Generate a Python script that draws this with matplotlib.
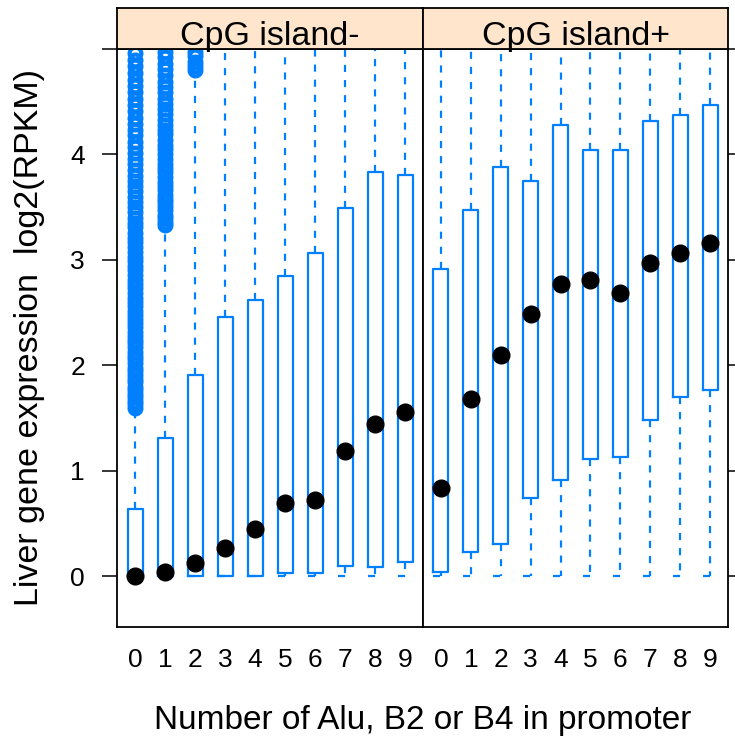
import matplotlib
matplotlib.use("Agg")
import matplotlib.pyplot as plt

plt.rcParams['font.family'] = ['Liberation Sans', 'DejaVu Sans']

cats = ["0", "1", "2", "3", "4", "5", "6", "7", "8", "9"]
panels = ["CpG island-", "CpG island+"]

# CpG island-
neg_q1 = [0.0, 0.0, 0.0, 0.0, 0.0, 0.03, 0.03, 0.10, 0.085, 0.14]
neg_med = [0.0, 0.04, 0.13, 0.27, 0.45, 0.70, 0.72, 1.19, 1.44, 1.56]
neg_q3 = [0.64, 1.31, 1.91, 2.46, 2.62, 2.85, 3.07, 3.49, 3.83, 3.81]
neg_lo = [0.0, 0.0, 0.0, 0.0, 0.0, 0.0, 0.0, 0.0, 0.0, 0.0]
neg_hi = [1.58, 3.30, 4.78, 5.3, 5.3, 5.3, 5.3, 5.3, 5.3, 5.3]
neg_out0 = [1.60, 1.63, 1.66, 1.70, 1.73, 1.77, 1.80, 1.84, 1.87, 1.91, 1.95, 1.98,
            2.02, 2.06, 2.09, 2.13, 2.17, 2.21, 2.24, 2.28, 2.32, 2.36, 2.40, 2.44,
            2.48, 2.52, 2.56, 2.60, 2.64, 2.69, 2.73, 2.77, 2.81, 2.86, 2.90, 2.94,
            2.99, 3.03, 3.08, 3.12, 3.17, 3.21, 3.26, 3.31, 3.35, 3.40, 3.45, 3.50,
            3.55, 3.60, 3.65, 3.70, 3.75, 3.80, 3.85, 3.91, 3.96, 4.01, 4.07, 4.12,
            4.18, 4.23, 4.29, 4.35, 4.41, 4.47, 4.53, 4.59, 4.65, 4.71, 4.77, 4.84,
            4.90, 4.96]
neg_out1 = [3.33, 3.36, 3.40, 3.43, 3.47, 3.51, 3.55, 3.58, 3.62, 3.66, 3.70, 3.74,
            3.79, 3.83, 3.87, 3.91, 3.96, 4.00, 4.05, 4.09, 4.14, 4.19, 4.23, 4.28,
            4.33, 4.38, 4.43, 4.48, 4.53, 4.59, 4.64, 4.69, 4.75, 4.81, 4.86, 4.92,
            4.97]
neg_out2 = [4.80, 4.84, 4.88, 4.93, 4.97]

# CpG island+
pos_q1 = [0.04, 0.23, 0.31, 0.74, 0.91, 1.11, 1.13, 1.48, 1.70, 1.77]
pos_med = [0.84, 1.68, 2.10, 2.49, 2.77, 2.81, 2.69, 2.97, 3.07, 3.16]
pos_q3 = [2.91, 3.47, 3.88, 3.75, 4.28, 4.04, 4.04, 4.32, 4.37, 4.47]
pos_lo = [0.0, 0.0, 0.0, 0.0, 0.0, 0.0, 0.0, 0.0, 0.0, 0.0]
pos_hi = [5.3, 5.3, 5.3, 5.3, 5.3, 5.3, 5.3, 5.3, 5.3, 5.3]

blue = "#0080ff"
dash = (0, (3.2, 3.6))

fig = plt.figure(figsize=(7.35, 7.44), dpi=100)
W, H = 735.0, 744.0
ax1 = fig.add_axes([117 / W, (H - 627) / H, 306 / W, 578 / H])
ax2 = fig.add_axes([423 / W, (H - 627) / H, 305 / W, 578 / H])
s1 = fig.add_axes([117 / W, (H - 49) / H, 306 / W, 41 / H])
s2 = fig.add_axes([423 / W, (H - 49) / H, 305 / W, 41 / H])

data = [
    (neg_q1, neg_med, neg_q3, neg_lo, neg_hi, [neg_out0, neg_out1, neg_out2]),
    (pos_q1, pos_med, pos_q3, pos_lo, pos_hi, []),
]

for ax, (q1, med, q3, lo, hi, outs) in zip([ax1, ax2], data):
    stats = []
    for i in range(len(cats)):
        fl = outs[i] if i < len(outs) else []
        stats.append(dict(med=med[i], q1=q1[i], q3=q3[i], whislo=lo[i],
                          whishi=hi[i], fliers=fl))
    pos = list(range(1, len(cats) + 1))
    ax.bxp(stats, positions=pos, widths=0.5, capwidths=0.5, showfliers=True,
           boxprops=dict(color=blue, lw=1.6),
           whiskerprops=dict(color=blue, lw=1.6, linestyle=dash),
           capprops=dict(color=blue, lw=1.6, linestyle=dash),
           medianprops=dict(lw=0),
           flierprops=dict(marker="o", markerfacecolor="none",
                           markeredgecolor=blue, markersize=8.5,
                           markeredgewidth=3.0))
    ax.plot(pos, med, "o", color="black", markersize=12, zorder=5)
    ax.set_xlim(0.4, 10.6)
    ax.set_ylim(-0.48, 5.0)
    ax.set_xticks(pos)
    ax.set_xticklabels(cats)
    ax.set_yticks([0, 1, 2, 3, 4, 5])
    ax.tick_params(axis="x", length=0, pad=15, labelsize=19)
    for sp in ax.spines.values():
        sp.set_linewidth(1.3)

ax1.set_yticklabels(["0", "1", "2", "3", "4", ""])
ax1.tick_params(axis="y", length=11, width=1.1, pad=12, labelsize=19)
ax1.set_ylabel("Liver gene expression  log2(RPKM)", fontsize=24.5, labelpad=18)
ax2.yaxis.tick_right()
ax2.tick_params(axis="y", length=11, width=1.1, labelright=False)

for s, name in zip([s1, s2], panels):
    s.set_facecolor("#ffe5cc")
    s.set_xticks([])
    s.set_yticks([])
    for sp in s.spines.values():
        sp.set_linewidth(1.3)
    s.text(0.5, 0.1, name, ha="center", va="baseline", fontsize=24.5,
           transform=s.transAxes)

fig.text(422.5 / W, 15 / H, "Number of Alu, B2 or B4 in promoter",
         ha="center", va="baseline", fontsize=24)

plt.savefig("out.png", dpi=100)
